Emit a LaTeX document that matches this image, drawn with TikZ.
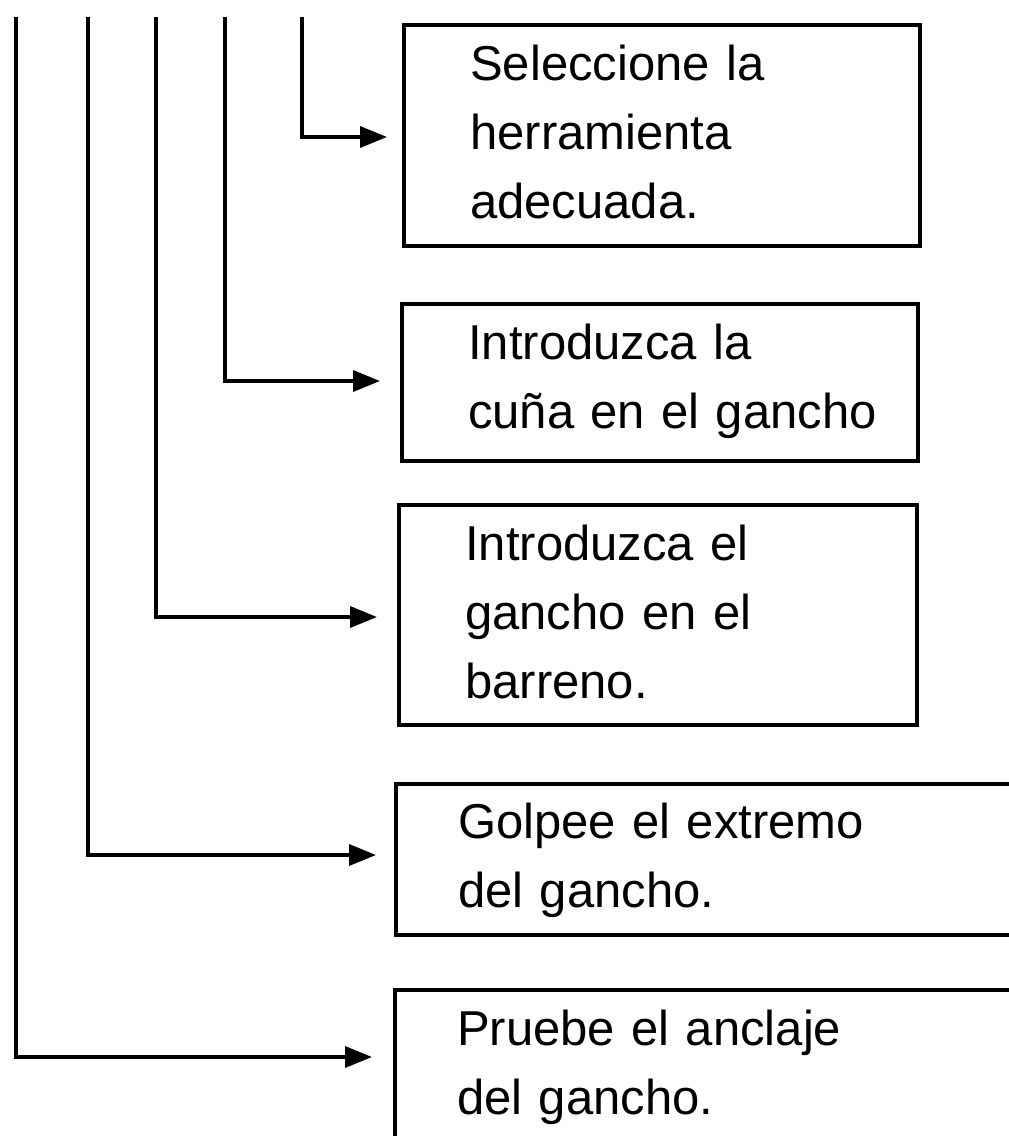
\documentclass[tikz,border=0pt]{standalone}
\usepackage{fontspec}
\setmainfont{Liberation Sans}
\usetikzlibrary{arrows.meta}
\begin{document}
\begin{tikzpicture}[x=1pt,y=-1pt,
  stepbox/.style={draw, line width=4pt, rectangle, anchor=north west, inner sep=0pt},
  steptext/.style={anchor=base west, align=left, text width=560pt, inner sep=0pt,
    font=\fontsize{49}{69}\selectfont},
  conn/.style={line width=3.6pt, -{Triangle[length=27pt,width=21pt]}}]
\useasboundingbox (0,0) rectangle (1009,1136);
\begin{scope}
\clip (0,0) rectangle (1009,1136);
% boxes
\node[stepbox, minimum width=516pt, minimum height=221pt] (b1) at (402,23) {};
\node[stepbox, minimum width=516pt, minimum height=157pt] (b2) at (400,302) {};
\node[stepbox, minimum width=518pt, minimum height=220pt] (b3) at (397,503) {};
\node[stepbox, minimum width=640pt, minimum height=151pt] (b4) at (394,782) {};
\node[stepbox, minimum width=640pt, minimum height=220pt] (b5) at (393,988) {};
% texts
\node[steptext] (s1) at (470,80) {Seleccione la\\herramienta\\adecuada.};
\node[steptext] (s2) at (468,359) {Introduzca la\\cuña en el gancho};
\node[steptext] (s3) at (465,560) {Introduzca el\\gancho en el\\barreno.};
\node[steptext] (s4) at (458,838) {Golpee el extremo\\del gancho.};
\node[steptext] (s5) at (457,1045) {Pruebe el anclaje\\del gancho.};
% connector starts and ends
\coordinate (v1) at (16,17);
\coordinate (v2) at (88,17);
\coordinate (v3) at (156,17);
\coordinate (v4) at (225,17);
\coordinate (v5) at (302,17);
\coordinate (e1) at (387,137);
\coordinate (e2) at (380,381);
\coordinate (e3) at (377,617);
\coordinate (e4) at (376,855);
\coordinate (e5) at (372,1057);
\draw[conn] (v5) |- (e1);
\draw[conn] (v4) |- (e2);
\draw[conn] (v3) |- (e3);
\draw[conn] (v2) |- (e4);
\draw[conn] (v1) |- (e5);
\end{scope}
\end{tikzpicture}
\end{document}
